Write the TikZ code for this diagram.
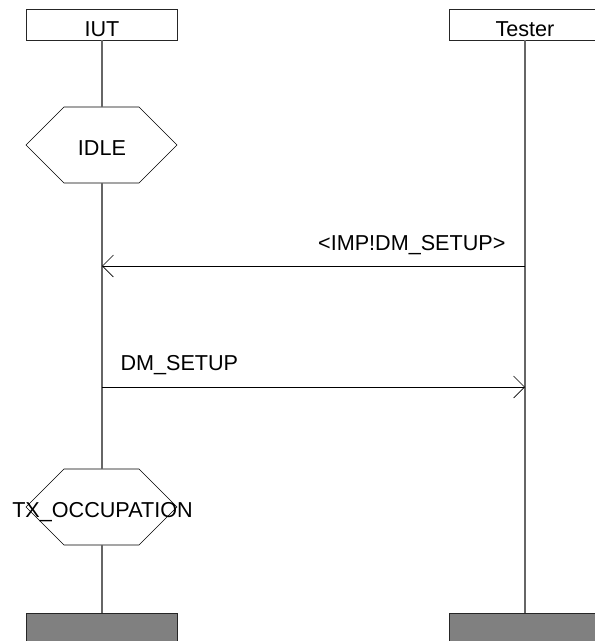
\documentclass[tikz,border=0pt]{standalone}
\usepackage{fontspec}
\setmainfont{Liberation Sans}
\usetikzlibrary{arrows.meta,calc,positioning}
\tikzset{
  head/.style={draw=black!85, line width=0.7pt, minimum width=151pt, minimum height=31pt,
    inner sep=0pt, text height=24pt, text depth=0pt},
  stopbox/.style={draw=black!85, fill=black!50, line width=0.7pt, minimum width=151pt,
    minimum height=40pt, inner sep=0pt},
  life/.style={draw=black!60, line width=1.3pt},
  msg/.style={draw=black, line width=0.6pt, -{Straight Barb[length=11pt,width=22pt]}},
  hexa/.style={draw=black, line width=0.6pt}
}
\newcommand{\statehex}[1]{\draw[hexa] ($(#1)+(-76,0)$) -- ++(38,-38) -- ++(75,0) -- ++(38,38) -- ++(-38,38) -- ++(-75,0) -- cycle;}

\begin{document}
\begin{tikzpicture}[x=1pt, y=-1pt, every node/.style={font=\fontsize{21.6pt}{26pt}\selectfont}]
          \useasboundingbox (0,0) rectangle (595,641);

          \node[head] (iut) at (102, 24.5) {IUT};
          \node[head, minimum width=152pt] (tst) at (525, 24.5) {Tester};

          \coordinate (idle) at (102, 145);
          \coordinate (idleN) at (102, 107);
          \coordinate (idleS) at (102, 183);
          \statehex{idle}
          \node[anchor=base] (idletxt) at (102, 155) {IDLE};

          \coordinate (occ) at (102, 507);
          \coordinate (occN) at (102, 469);
          \coordinate (occS) at (102, 545);
          \statehex{occ}
          \node[anchor=base] (occtxt) at (102.5, 517) {TX\_OCCUPATION};

          \node[stopbox] (iutend) at (102, 633) {};
          \node[stopbox, minimum width=152pt] (tstend) at (525, 633) {};

          \draw[life] (iut.south) -- (idleN);
          \draw[life] (idleS) -- (occN);
          \draw[life] (occS) -- (iutend.north);
          \draw[life] (tst.south) -- (tstend.north);

          \coordinate (iutA) at (102, 266);
          \coordinate (tstA) at (525, 266);
          \coordinate (iutB) at (102, 387);
          \coordinate (tstB) at (525, 387);

          \draw[msg] (tstA) -- (iutA);
          \node[anchor=base east] (imptxt) at (509, 250) {<IMP!DM\_SETUP>};

          \draw[msg] (iutB) -- (tstB);
          \node[anchor=base west] (dmtxt) at (117, 370.5) {DM\_SETUP};
        \end{tikzpicture}
\end{document}
